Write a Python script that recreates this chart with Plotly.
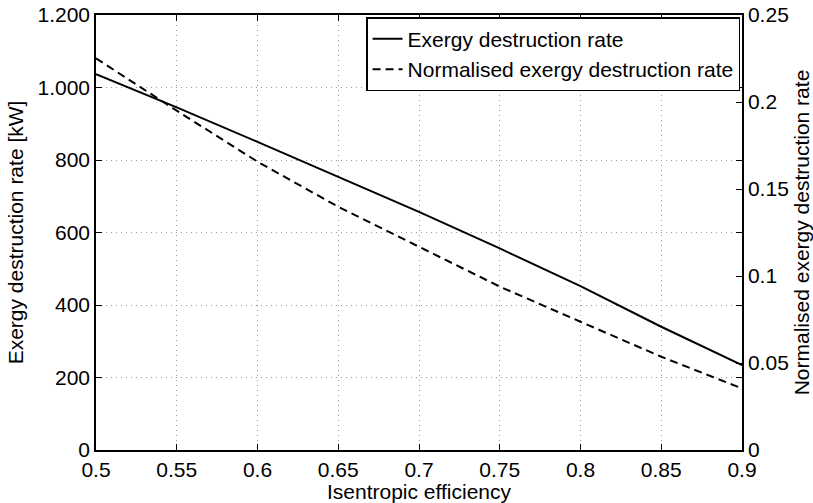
import plotly.graph_objects as go

efficiency = [0.5, 0.55, 0.6, 0.65, 0.7, 0.75, 0.8, 0.85, 0.9]
exergy_kw = [1037, 945, 850, 754, 657, 556, 452, 340, 234]
norm_exergy = [0.2251, 0.1950, 0.1657, 0.1398, 0.1168, 0.0939, 0.0737, 0.0536, 0.0354]

x_ticks = [0.5, 0.55, 0.6, 0.65, 0.7, 0.75, 0.8, 0.85, 0.9]
x_ticktext = ["0.5", "0.55", "0.6", "0.65", "0.7", "0.75", "0.8", "0.85", "0.9"]
y1_ticks = [0, 200, 400, 600, 800, 1000, 1200]
y1_ticktext = ["0", "200", "400", "600", "800", "1.000", "1.200"]
y2_ticks = [0, 0.05, 0.1, 0.15, 0.2, 0.25]
y2_ticktext = ["0", "0.05", "0.1", "0.15", "0.2", "0.25"]

FONT = "Liberation Sans, Arial, sans-serif"
FS = 21

fig = go.Figure()
fig.add_trace(go.Scatter(x=efficiency, y=exergy_kw, mode="lines",
                         name="Exergy destruction rate",
                         line=dict(color="black", width=2)))
fig.add_trace(go.Scatter(x=efficiency, y=norm_exergy, mode="lines",
                         name="Normalised exergy destruction rate", yaxis="y2",
                         line=dict(color="black", width=2, dash="8px,5px")))

grid = dict(showgrid=True, gridcolor="#999999", griddash="1px,4px", gridwidth=1)

fig.update_layout(
    width=813, height=503,
    margin=dict(l=96, r=71, t=15, b=53),
    paper_bgcolor="white", plot_bgcolor="white",
    font=dict(family=FONT, size=FS, color="black"),
    showlegend=True,
    legend=dict(x=0.997, y=0.995, xanchor="right", yanchor="top",
                bgcolor="white", bordercolor="black", borderwidth=1.5,
                font=dict(size=FS), tracegroupgap=0, itemwidth=30),
    xaxis=dict(range=[0.5, 0.9], tickvals=x_ticks, ticktext=x_ticktext,
               automargin=False,
               showline=True, linecolor="black", linewidth=1.5, mirror="ticks",
               ticks="inside", ticklen=6, tickcolor="black", ticklabelstandoff=0,
               zeroline=False, **grid,
               title=dict(text="Isentropic efficiency", standoff=4, font=dict(size=FS))),
    yaxis=dict(range=[0, 1200], tickvals=y1_ticks, ticktext=y1_ticktext,
               automargin=False,
               showline=True, linecolor="black", linewidth=1.5, mirror="ticks",
               ticks="inside", ticklen=6, tickcolor="black",
               zeroline=False, **grid,
               title=dict(text="Exergy destruction rate [kW]", standoff=8, font=dict(size=FS))),
    yaxis2=dict(range=[0, 0.25], tickvals=y2_ticks, ticktext=y2_ticktext,
                automargin=False,
                overlaying="y", side="right",
                showline=True, linecolor="black", linewidth=1.5,
                ticks="inside", ticklen=6, tickcolor="black",
                showgrid=False, zeroline=False,
                title=dict(text="Normalised exergy destruction rate", standoff=6, font=dict(size=FS))),
)

fig.write_html("out.html")
